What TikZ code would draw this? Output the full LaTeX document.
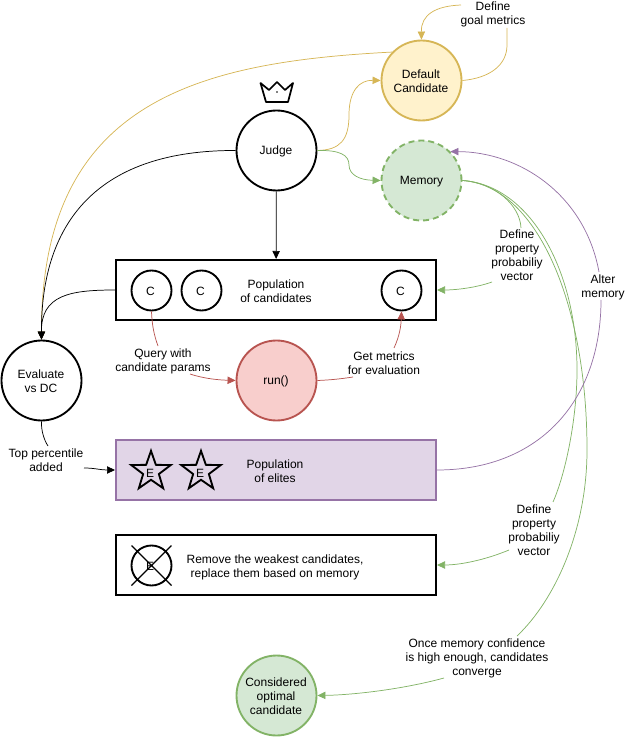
\documentclass[tikz,border=0pt]{standalone}
\usepackage{fontspec}
\setmainfont{Liberation Sans}
\usetikzlibrary{arrows.meta,shapes.geometric}
\definecolor{goldf}{HTML}{FFF2CC}\definecolor{goldd}{HTML}{D6B656}
\definecolor{greenf}{HTML}{D5E8D4}\definecolor{greend}{HTML}{82B366}
\definecolor{redf}{HTML}{F8CECC}\definecolor{redd}{HTML}{B85450}
\definecolor{purf}{HTML}{E1D5E7}\definecolor{purd}{HTML}{9673A6}
\tikzset{
  big/.style={circle,draw,line width=1.4pt,minimum size=60pt,inner sep=0pt},
  small/.style={circle,draw=black,line width=1.4pt,minimum size=30pt,inner sep=0pt},
  boxn/.style={rectangle,draw=black,line width=1.5pt,minimum width=240pt,minimum height=45pt,inner sep=0pt},
  lab/.style={align=center,inner sep=0pt},
  starn/.style={star,star points=5,star point ratio=2.5,draw=black,line width=1.4pt,inner sep=0pt,minimum size=31pt},
  con/.style={line width=.55pt},
  arr/.style={con,-{Triangle[length=6pt,width=5.5pt]}}
}
\begin{document}
\begin{tikzpicture}[x=.75pt,y=-.75pt,font=\fontsize{9}{10.5}\selectfont]
\useasboundingbox (0,0) rectangle (625,737);
% nodes
\node[big,draw=goldd,fill=goldf] (dc) at (421.5,80.5) {};
\node[big,draw=greend,fill=greenf,dashed,dash pattern=on 4.5pt off 3pt] (mem) at (421.5,180.5) {};
\node[big,draw=black] (judge) at (276.5,150.5) {};
\node[big,draw=redd,fill=redf] (run) at (276.5,380.5) {};
\node[big,draw=black] (eval) at (41.5,380.5) {};
\node[big,draw=greend,fill=greenf] (opt) at (276.5,695.5) {};
\node[boxn] (pop) at (276,290) {};
\node[boxn,draw=purd,fill=purf] (eli) at (276,470) {};
\node[boxn] (rem) at (276,565) {};
\node[small] (c1) at (151.5,290.5) {};
\node[small] (c2) at (201.5,290.5) {};
\node[small] (c3) at (401.5,290.5) {};
\node[starn] (e1) at (151,471.5) {};
\node[starn] (e2) at (201,471.5) {};
\node[small] (x1) at (151.5,565.5) {};
% texts
\node[lab] (dct) at (421,81) {Default\\Candidate};
\node[lab] (memt) at (421.5,182) {Memory};
\node[lab] (judget) at (276,151.5) {Judge};
\node[lab] (runt) at (276,381.5) {run()};
\node[lab] (evalt) at (41,381) {Evaluate\\vs DC};
\node[lab] (optt) at (276,696) {Considered\\optimal\\candidate};
\node[lab] (poptxt) at (276,291) {Population\\of candidates};
\node[lab] (elitxt) at (275,471) {Population\\of elites};
\node[lab] (remtxt) at (275,567) {Remove the weakest candidates,\\replace them based on memory};
\node[lab] (c1t) at (150.5,291) {C};
\node[lab] (c2t) at (200.5,291) {C};
\node[lab] (c3t) at (400.5,291) {C};
\node[lab] (e1t) at (150,473) {E};
\node[lab] (e2t) at (200,473) {E};
\node[lab] (x1t) at (150,566) {E};
\draw[line width=.9pt] (x1.center) ++(-20,-20) -- ++(40,40) ++(0,-40) -- ++(-40,40);
% labels
\node[lab] (lgoal) at (493,14) {Define\\goal metrics};
\node[lab] (lprop1) at (517,255) {Define\\property\\probabiliy\\vector};
\node[lab] (lalter) at (603,287) {Alter\\memory};
\node[lab] (lprop2) at (534,530) {Define\\property\\probabiliy\\vector};
\node[lab] (lconv) at (477,658) {Once memory confidence\\is high enough, candidates\\converge};
\node[lab] (lquery) at (163,361) {Query with\\candidate params};
\node[lab] (lget) at (384,363) {Get metrics\\for evaluation};
\node[lab] (ltop) at (46,460.5) {Top percentile\\added};
% crown
\draw[line width=1.3pt,line join=round] (260.5,83) -- (269,90) -- (277,82) -- (285,90) -- (293,83) -- (288,102) -- (266,102) -- cycle;
\fill (277,92) circle (.6pt);
% connector free ends beside the labels
\coordinate (g1) at (507,28);
\coordinate (g2) at (461,5);
\coordinate (t1) at (48,446);
\coordinate (t2) at (84,468);
\coordinate (q1) at (158,346);
\coordinate (q2) at (190,374);
\coordinate (m1) at (353,377);
\coordinate (m2) at (394,348);
\coordinate (p1) at (521,228);
\coordinate (p2) at (492,282);
\coordinate (r1) at (553,502);
\coordinate (r2) at (509,550);
\coordinate (v1) at (517,636);
\coordinate (v2) at (444,678);
\coordinate (a1) at (601,300);
\coordinate (a2) at (599,272);
% connectors
\draw[arr] (judge) -- (pop);
\draw[arr,goldd] (judge.east) .. controls (340,150) and (349,140) .. (349,115) .. controls (349,90) and (360,80) .. (dc.west);
\draw[arr,greend] (judge.east) .. controls (340,150) and (349,155) .. (349,165) .. controls (349,175) and (360,180) .. (mem.west);
\draw[con,goldd] (dc.east) .. controls (490,78) and (507,65) .. (507,45) -- (g1);
\draw[arr,goldd] (g2) .. controls (435,6) and (421,15) .. (dc.north);
\draw[arr,goldd] (dc.136) .. controls (200,62) and (41,100) .. (eval.north);
\draw[arr] (judge.west) .. controls (100,150) and (41,220) .. (eval.north);
\draw[arr] (pop.west) .. controls (70,290) and (41,295) .. (eval.north);
\draw[con] (eval.south) .. controls (41,430) and (44,440) .. (t1);
\draw[arr] (t2) .. controls (95,468) and (100,470) .. (eli.west);
\draw[con,redd] (c1.south) .. controls (152,325) and (154,335) .. (q1);
\draw[arr,redd] (q2) .. controls (205,379) and (220,380) .. (run.west);
\draw[con,redd] (run.east) .. controls (330,380) and (340,379) .. (m1);
\draw[arr,redd] (m2) .. controls (400,335) and (401,325) .. (c3.south);
\draw[con,greend] (mem.east) .. controls (495,183) and (520,205) .. (p1);
\draw[arr,greend] (p2) .. controls (475,288) and (455,290) .. (pop.east);
\draw[con,greend] (mem.east) .. controls (530,185) and (577,270) .. (577,370) .. controls (577,420) and (565,475) .. (r1);
\draw[arr,greend] (r2) .. controls (485,560) and (460,565) .. (rem.east);
\draw[con,greend] (mem.east) .. controls (535,185) and (587,300) .. (587,450) .. controls (587,530) and (555,600) .. (v1);
\draw[arr,greend] (v2) .. controls (400,690) and (350,695) .. (opt.east);
\draw[con,purd] (eli.east) .. controls (540,470) and (601,400) .. (a1);
\draw[arr,purd] (a2) .. controls (585,195) and (520,152) .. (mem.45);
\end{tikzpicture}
\end{document}
